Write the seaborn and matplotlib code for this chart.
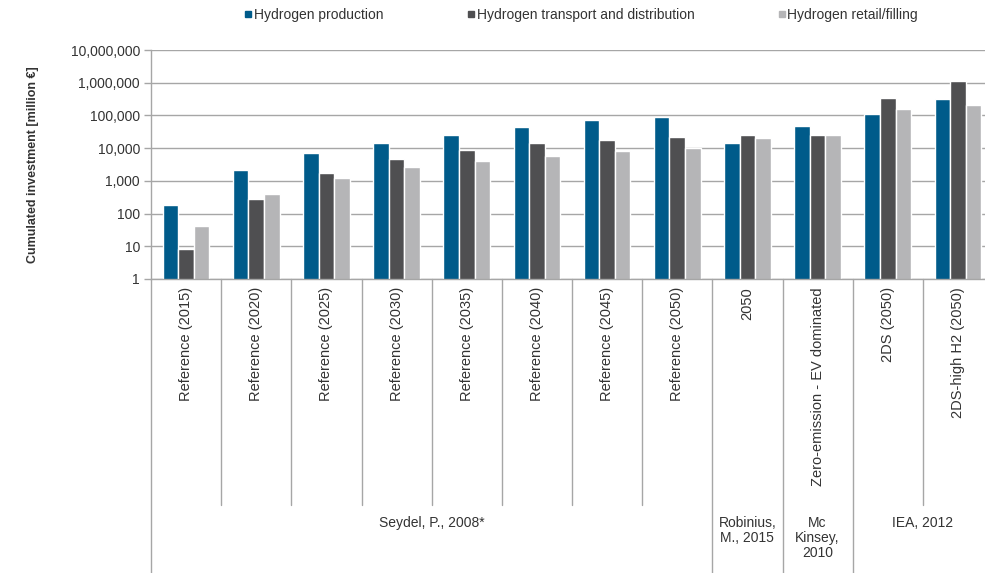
import pandas as pd
import numpy as np
import matplotlib
matplotlib.use('Agg')
import matplotlib.pyplot as plt
import matplotlib.transforms as mtransforms
from matplotlib.lines import Line2D
from matplotlib.ticker import FuncFormatter, NullLocator, FixedLocator
import seaborn as sns

#Data (million EUR, log scale)
scenarios = ['Reference (2015)', 'Reference (2020)', 'Reference (2025)', 'Reference (2030)',
             'Reference (2035)', 'Reference (2040)', 'Reference (2045)', 'Reference (2050)',
             '2050', 'Zero-emission - EV dominated', '2DS (2050)', '2DS-high H2 (2050)']
production = [185, 2200, 7200, 14500, 26000, 43000, 72000, 91000, 14500, 47000, 107000, 325000]
transport = [8, 285, 1800, 4500, 8600, 14500, 18000, 22000, 25000, 25000, 350000, 1130000]
retail = [42, 400, 1230, 2600, 4000, 5600, 8000, 10000, 21000, 25000, 152000, 204000]
series_names = ['Hydrogen production', 'Hydrogen transport and distribution', 'Hydrogen retail/filling']
y_ticks = [1, 10, 100, 1000, 10000, 100000, 1000000, 10000000]

#Sources (label, first category, last category)
sources = ['Seydel, P., 2008*', 'Robinius,\nM., 2015', 'Mc\nKinsey,\n2010', 'IEA, 2012']
source_first = [0, 8, 9, 10]
source_last = [7, 8, 9, 11]

colors = ['#005b8a', '#4f4f51', '#b5b5b7']
text_color = '#333333'
grid_color = '#a6a6a6'

#Long format table for seaborn
df = pd.DataFrame({
    'scenario': scenarios * 3,
    'series': [series_names[0]] * 12 + [series_names[1]] * 12 + [series_names[2]] * 12,
    'value': production + transport + retail,
})

sns.set_theme(style='white')
plt.rcParams['font.family'] = ['Liberation Sans', 'DejaVu Sans']

fig = plt.figure(figsize=(9.85, 5.73), dpi=100)
# axes box in pixels: left 151, right 993, top 50, bottom 279
ax = fig.add_axes([151 / 985, 1 - 279 / 573, 842 / 985, 229 / 573])

sns.barplot(data=df, x='scenario', y='value', hue='series', order=scenarios,
            hue_order=series_names, palette=colors, width=0.667, saturation=1,
            legend=False, ax=ax, errorbar=None)
ax.set_yscale('log')

ax.set_ylim(1, 1e7)
ax.set_xlim(-0.5, len(scenarios) - 0.5)
ax.yaxis.set_major_locator(FixedLocator(y_ticks))
ax.yaxis.set_minor_locator(NullLocator())
ax.yaxis.set_major_formatter(FuncFormatter(lambda v, p: '{:,.0f}'.format(v)))
ax.grid(axis='y', color=grid_color, linewidth=1)
ax.set_axisbelow(True)
ax.tick_params(axis='y', labelsize=10, labelcolor=text_color, left=True, length=5,
               color=grid_color, width=1, pad=3)
ax.tick_params(axis='x', bottom=False, labelbottom=False)
ax.set_xlabel('')
ax.set_ylabel('')
for s in ['top', 'right']:
    ax.spines[s].set_visible(False)
for s in ['left', 'bottom']:
    ax.spines[s].set_color(grid_color)
    ax.spines[s].set_linewidth(1)

#Category table below the plot
trans = mtransforms.blended_transform_factory(ax.transData, ax.transAxes)
def ypx(p):
    return (279 - p) / 229

long_lines = [-0.5] + [l + 0.5 for l in source_last]
for i in range(len(scenarios) + 1):
    xb = i - 0.5
    y_end = ypx(600) if xb in long_lines else ypx(505)
    ax.plot([xb, xb], [0, y_end], transform=trans, color=grid_color, linewidth=1,
            clip_on=False)

for i, name in enumerate(scenarios):
    ax.text(i, ypx(287), name, transform=trans, rotation=90, ha='center', va='top',
            fontsize=10.5, color=text_color)

for name, a, b in zip(sources, source_first, source_last):
    ax.text((a + b) / 2, ypx(516), name, transform=trans, ha='center', va='top',
            fontsize=10, color=text_color, linespacing=1.1)

#Y label
fig.text(33 / 985, 1 - 164.5 / 573, 'Cumulated investment [million €]', rotation=90,
         ha='center', va='center', fontsize=9, fontweight='bold', color=text_color)

#Legend
handles = [Line2D([], [], marker='s', linestyle='none', markersize=5, color=c) for c in colors]
fig.legend(handles, series_names, loc='center', bbox_to_anchor=(0.59, 1 - 15 / 573),
           ncol=3, frameon=False, fontsize=10, handletextpad=0.1, columnspacing=6.0,
           labelcolor=text_color, handlelength=0.6)

fig.savefig('out.png', dpi=100)
